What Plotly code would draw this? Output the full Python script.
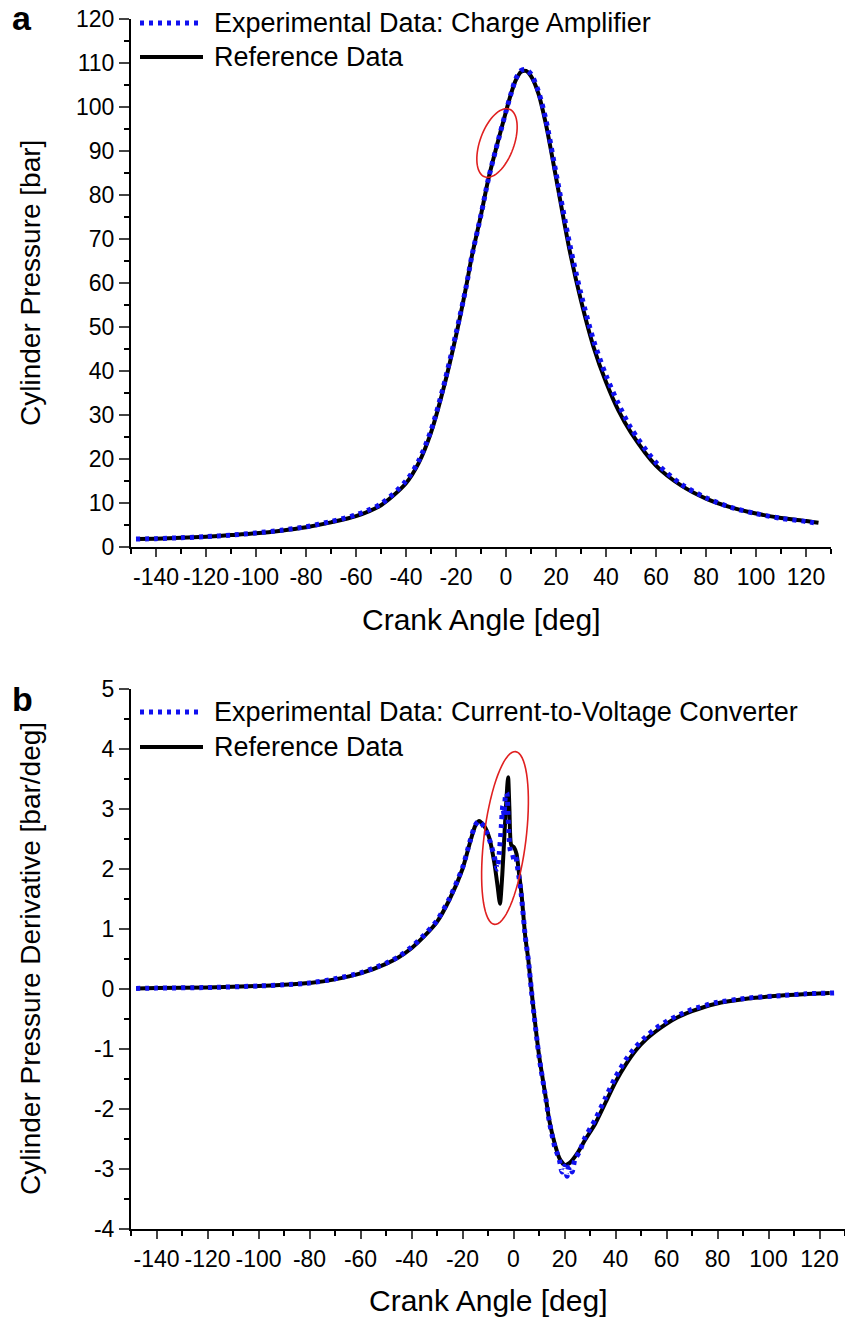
import math
import plotly.graph_objects as go

W, H = 845, 1318

# ---------------- Tick labels ----------------
x_tickvals = [-140, -120, -100, -80, -60, -40, -20, 0, 20, 40, 60, 80, 100, 120]
x_ticktext = ["-140", "-120", "-100", "-80", "-60", "-40", "-20", "0", "20", "40", "60", "80", "100", "120"]
y1_tickvals = [0, 10, 20, 30, 40, 50, 60, 70, 80, 90, 100, 110, 120]
y1_ticktext = ["0", "10", "20", "30", "40", "50", "60", "70", "80", "90", "100", "110", "120"]
y2_tickvals = [-4, -3, -2, -1, 0, 1, 2, 3, 4, 5]
y2_ticktext = ["-4", "-3", "-2", "-1", "0", "1", "2", "3", "4", "5"]

# ---------------- Panel a: cylinder pressure ----------------
ca_ref_a = [-148, -140, -130, -120, -110, -100, -90, -80, -70, -60, -50, -40, -35, -30, -25, -20,
            -16, -13.7, -10, -7.1, -4, 0, 2, 4, 6, 8, 10, 13, 16, 20, 25.6, 30, 35, 40, 45, 50,
            60, 70, 80, 90, 100, 110, 120, 125]
p_ref = [1.8, 1.9, 2.1, 2.35, 2.7, 3.1, 3.7, 4.5, 5.6, 7.0, 9.5, 14.5, 19.0, 26.0, 36.0, 48.0,
         59.0, 66.0, 75.5, 83.5, 90.5, 99.0, 103.0, 106.2, 108.0, 108.2, 107.0, 103.0, 96.0,
         84.0, 67.0, 56.0, 45.5, 37.5, 31.0, 26.0, 18.5, 14.0, 11.0, 9.0, 7.6, 6.6, 5.9, 5.5]

ca_exp_a = ca_ref_a
p_exp = [1.8, 1.9, 2.1, 2.35, 2.7, 3.2, 3.8, 4.6, 5.8, 7.3, 9.8, 15.0, 19.5, 26.5, 36.5, 48.5,
         59.0, 66.0, 75.5, 83.5, 90.5, 99.0, 103.0, 106.5, 108.3, 108.5, 107.5, 103.5, 97.0,
         85.0, 68.5, 57.5, 47.0, 39.0, 32.5, 27.0, 19.2, 14.3, 11.2, 9.0, 7.6, 6.5, 5.8, 5.3]

# ---------------- Panel b: pressure derivative ----------------
ca_ref_b = [-148, -140, -120, -100, -90, -80, -70, -60, -50, -45, -40, -35, -30, -25, -20, -17,
            -15, -13.5, -11.5, -9.5, -7.5, -6.2, -5.3, -4.4, -3.4, -2.5, -2.1, -1.6, -0.9, 0.2,
            1.2, 2.1, 3.1, 4.6, 5.8, 7.5, 10, 12.8, 14, 16, 18, 20, 22, 25, 28, 32, 36, 40, 44,
            48, 52, 56, 60, 64, 70, 79, 92, 105, 115, 124]
d_ref = [0.01, 0.015, 0.025, 0.05, 0.07, 0.1, 0.16, 0.26, 0.42, 0.53, 0.68, 0.88, 1.12, 1.5,
         2.0, 2.45, 2.72, 2.8, 2.72, 2.52, 2.1, 1.7, 1.42, 1.9, 2.7, 3.35, 3.53, 3.0, 2.4,
         2.36, 2.25, 1.95, 1.6, 0.88, 0.49, -0.2, -1.1, -1.85, -2.18, -2.55, -2.82, -2.93,
         -2.9, -2.74, -2.52, -2.25, -1.9, -1.55, -1.26, -1.02, -0.84, -0.7, -0.58, -0.48,
         -0.37, -0.25, -0.16, -0.11, -0.085, -0.065]

ca_exp_b = [-148, -140, -120, -100, -90, -80, -70, -60, -50, -45, -40, -35, -30, -25, -20, -17,
            -15, -13.5, -11.5, -9.5, -7.5, -6.4, -5.6, -4.8, -4.2, -3.7, -3.2, -2.6, -2.2, -1.7,
            -1.2, -0.4, 0.2, 0.9, 1.5, 2.2, 3.1, 4.6, 5.8, 7.5, 10, 12.8, 14, 16, 18, 19, 20, 21,
            22, 23, 24, 26, 28, 32, 36, 40, 44, 48, 52, 56, 60, 64, 70, 79, 92, 105, 115, 127]
d_exp = [0.01, 0.015, 0.025, 0.05, 0.07, 0.1, 0.17, 0.27, 0.43, 0.54, 0.7, 0.9, 1.14, 1.52,
         2.02, 2.47, 2.73, 2.8, 2.7, 2.5, 2.2, 2.0, 2.25, 2.7, 3.05, 2.9, 3.2, 3.27, 2.95,
         2.5, 2.3, 2.25, 2.15, 2.2, 2.05, 1.85, 1.55, 0.88, 0.49, -0.22, -1.12, -1.86, -2.2,
         -2.6, -2.85, -3.05, -2.95, -3.12, -2.95, -3.05, -2.85, -2.7, -2.48, -2.18, -1.82,
         -1.47, -1.18, -0.96, -0.79, -0.65, -0.54, -0.45, -0.34, -0.23, -0.15, -0.11, -0.08,
         -0.065]

FONT = "Liberation Sans, Arial, sans-serif"
BLUE = "#1010f0"
DOT = "4px,5px"

def px(x):
    return x / W

def py(y):
    return 1 - y / H

fig = go.Figure()

fig.add_trace(go.Scatter(x=ca_ref_a, y=p_ref, mode="lines", line=dict(color="black", width=4, shape="spline", smoothing=0.8),
                         xaxis="x", yaxis="y", showlegend=False, name="Reference Data"))
fig.add_trace(go.Scatter(x=ca_exp_a, y=p_exp, mode="lines", line=dict(color=BLUE, width=5, dash=DOT, shape="spline", smoothing=0.8),
                         xaxis="x", yaxis="y", showlegend=False, name="Experimental Data: Charge Amplifier"))
fig.add_trace(go.Scatter(x=ca_ref_b, y=d_ref, mode="lines", line=dict(color="black", width=4, shape="spline", smoothing=0.6),
                         xaxis="x2", yaxis="y2", showlegend=False, name="Reference Data"))
fig.add_trace(go.Scatter(x=ca_exp_b, y=d_exp, mode="lines", line=dict(color=BLUE, width=5, dash=DOT, shape="spline", smoothing=0.6),
                         xaxis="x2", yaxis="y2", showlegend=False, name="Experimental Data: Current-to-Voltage Converter"))

tickfont = dict(family=FONT, size=23, color="black")
common_x = dict(range=[-150, 130], tickmode="array", tickvals=x_tickvals, ticktext=x_ticktext,
                tickangle=0, ticks="outside", ticklen=8, tickwidth=2, automargin=False,
                showline=True, linewidth=2, linecolor="black", showgrid=False, zeroline=False,
                tickfont=tickfont, ticklabelstandoff=0,
                minor=dict(dtick=10, tick0=0, ticks="outside", ticklen=5, tickwidth=2, tickcolor="black"))
common_y = dict(tickmode="array", ticks="outside", ticklen=10, tickwidth=2, showline=True, linewidth=2,
                linecolor="black", showgrid=False, zeroline=False, tickfont=tickfont, automargin=False,
                ticklabelstandoff=0, tickangle=0)

fig.update_layout(
    width=W, height=H, margin=dict(l=0, r=0, t=0, b=0, pad=0, autoexpand=False),
    paper_bgcolor="white", plot_bgcolor="white", showlegend=False,
    xaxis=dict(domain=[px(131), px(831)], anchor="y", **common_x),
    yaxis=dict(domain=[py(547), py(19)], anchor="x", range=[0, 120], tickvals=y1_tickvals, ticktext=y1_ticktext,
               minor=dict(dtick=5, tick0=0, ticks="outside", ticklen=5, tickwidth=2, tickcolor="black"), **common_y),
    xaxis2=dict(domain=[px(131), 1.0], anchor="y2", **common_x),
    yaxis2=dict(domain=[py(1229), py(689)], anchor="x2", range=[-4, 5], tickvals=y2_tickvals, ticktext=y2_ticktext,
                minor=dict(dtick=0.5, tick0=0, ticks="outside", ticklen=5, tickwidth=2, tickcolor="black"), **common_y),
)

annos = []
shapes = []

def text(x, y, s, size, xanchor="center", **kw):
    d = dict(x=px(x), y=py(y), xref="paper", yref="paper", text=s, showarrow=False,
             xanchor=xanchor, yanchor="middle",
             font=dict(family=FONT, size=size, color="black"))
    d.update(kw)
    annos.append(d)

# axis titles
text(481, 620, "Crank Angle [deg]", 30)
text(488, 1300, "Crank Angle [deg]", 30)
text(30, 283, "Cylinder Pressure [bar]", 28, textangle=-90)
text(30, 959, "Cylinder Pressure Derivative [bar/deg]", 28, textangle=-90)
# panel letters
text(22, 18, "<b>a</b>", 34)
text(22, 699, "<b>b</b>", 34)

# legends
def legend_row(y, label, kind):
    if kind == "dot":
        shapes.append(dict(type="line", xref="paper", yref="paper", x0=px(140), x1=px(203), y0=py(y), y1=py(y),
                           line=dict(color=BLUE, width=5, dash=DOT)))
    else:
        shapes.append(dict(type="line", xref="paper", yref="paper", x0=px(140), x1=px(203), y0=py(y), y1=py(y),
                           line=dict(color="black", width=4)))
    text(212, y, label, 27, xanchor="left")

legend_row(23, "Experimental Data: Charge Amplifier", "dot")
legend_row(57, "Reference Data", "solid")
legend_row(712, "Experimental Data: Current-to-Voltage Converter", "dot")
legend_row(747, "Reference Data", "solid")

# red ellipses (highlight annotations), pixel-space definition
def ellipse(cx, cy, a, b, ang_deg):
    ang = math.radians(ang_deg)
    pts = []
    for i in range(73):
        t = 2 * math.pi * i / 72
        ex, ey = b * math.cos(t), a * math.sin(t)
        X = cx + ex * math.cos(ang) + ey * math.sin(ang)
        Y = cy - (-ex * math.sin(ang) + ey * math.cos(ang))
        pts.append(f"{px(X):.5f},{py(Y):.5f}")
    path = "M " + " L ".join(pts) + " Z"
    shapes.append(dict(type="path", xref="paper", yref="paper", path=path,
                       line=dict(color="#e02020", width=1.6)))

ellipse(497, 143, 36, 17, 20)
ellipse(505, 838, 87, 21, 7)

fig.update_layout(annotations=annos, shapes=shapes)
fig.write_html("out.html")
